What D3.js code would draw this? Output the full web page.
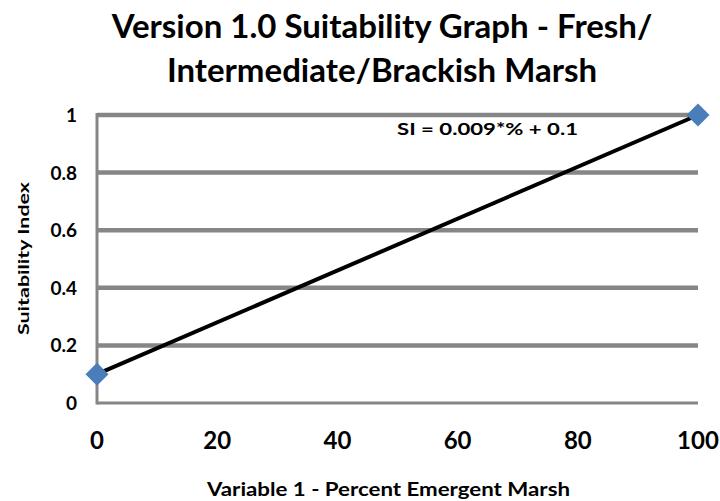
<!DOCTYPE html>
<html lang="en">
<head>
<meta charset="utf-8">
<title>suitability graph</title>
<script src="https://d3js.org/d3.v7.min.js"></script>
<style>
  body{margin:0;background:#fff;}
  text{font-family:Lato, "Open Sans", sans-serif;font-weight:bold;fill:#000;}
</style>
</head>
<body>
<div id="chart"></div>
<script>
// values
var titleLines = ["Version 1.0 Suitability Graph - Fresh/", "Intermediate/Brackish Marsh"]
var percentMarsh = [0, 100]
var suitability = [0.1, 1]
var xTicks = [0, 20, 40, 60, 80, 100]
var yTicks = [0, 0.2, 0.4, 0.6, 0.8, 1]
var equation = "SI = 0.009*% + 0.1"

var w = 720, h = 501
var plotL = 97, plotR = 698, plotT = 115, plotB = 403

var svg = d3.select("#chart").append("svg").attr("width", w).attr("height", h)

var x = d3.scaleLinear().domain([0, 100]).range([plotL, plotR])
var y = d3.scaleLinear().domain([0, 1]).range([plotB, plotT])

// horizontal gridlines
svg.selectAll(".grid").data(yTicks.filter(function(d){ return d > 0 }))
  .enter().append("line")
  .attr("x1", plotL).attr("x2", plotR)
  .attr("y1", function(d){ return y(d) }).attr("y2", function(d){ return y(d) })
  .attr("stroke", "#868686").attr("stroke-width", 4.5)

// axis lines
svg.append("line").attr("x1", plotL).attr("x2", plotR).attr("y1", y(0)).attr("y2", y(0))
  .attr("stroke", "#868686").attr("stroke-width", 3)
svg.append("line").attr("x1", plotL).attr("x2", plotL).attr("y1", y(1) - 2).attr("y2", y(0) + 1.5)
  .attr("stroke", "#868686").attr("stroke-width", 3)

// tick labels
svg.selectAll(".ylab").data(yTicks).enter().append("text")
  .attr("x", 77).attr("y", function(d){ return y(d) + 7 })
  .attr("text-anchor", "end").style("font-size", "19px")
  .text(function(d){ return d })

svg.selectAll(".xlab").data(xTicks).enter().append("text")
  .attr("x", function(d){ return x(d) }).attr("y", 449)
  .attr("text-anchor", "middle").style("font-size", "24px")
  .text(function(d){ return d })

// titles
svg.selectAll(".title").data(titleLines).enter().append("text")
  .attr("x", 382).attr("y", function(d, i){ return 38 + i * 44 })
  .attr("text-anchor", "middle").style("font-size", "33px")
  .text(function(d){ return d })

svg.append("text").attr("x", 207).attr("y", 496)
  .attr("textLength", 363).attr("lengthAdjust", "spacingAndGlyphs")
  .style("font-size", "18px")
  .text("Variable 1 - Percent Emergent Marsh")

svg.append("text").attr("transform", "translate(29,335) rotate(-90)")
  .attr("textLength", 153).attr("lengthAdjust", "spacingAndGlyphs")
  .style("font-size", "16px")
  .text("Suitability Index")

svg.append("text").attr("x", 397).attr("y", 135)
  .attr("textLength", 181).attr("lengthAdjust", "spacingAndGlyphs")
  .style("font-size", "17px")
  .text(equation)

// line + markers
var pts = percentMarsh.map(function(d, i){ return [d, suitability[i]] })
svg.append("path").datum(pts)
  .attr("d", d3.line().x(function(d){ return x(d[0]) }).y(function(d){ return y(d[1]) }))
  .attr("fill", "none").attr("stroke", "#000").attr("stroke-width", 4)

svg.selectAll(".pt").data(pts).enter().append("path")
  .attr("d", d3.symbol().type(d3.symbolSquare).size(265))
  .attr("transform", function(d){ return "translate(" + x(d[0]) + "," + y(d[1]) + ") rotate(45)" })
  .attr("fill", "#4a7ebb")
</script>
</body>
</html>
